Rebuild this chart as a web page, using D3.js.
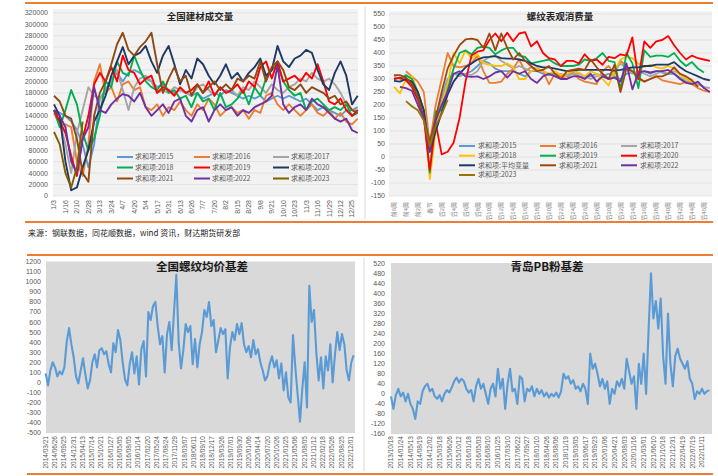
<!DOCTYPE html>
<html><head><meta charset="utf-8">
<script src="https://cdn.jsdelivr.net/npm/d3@7"></script>
<style>body{margin:0;background:#fff}text{font-family:"Liberation Sans","Noto Sans CJK SC",sans-serif}</style>
</head><body>
<svg id="c" width="718" height="476"></svg>
<script>
// ---------- Top-left: 全国建材成交量 ----------
const tlTicks = ["1/3","1/16","2/10","2/28","3/13","3/24","4/7","4/20","5/4","5/17","5/31","6/13","6/26","7/7","7/20","8/2","8/15","8/28","9/8","9/21","10/10","10/23","11/3","11/16","11/29","12/12","12/25"];
const tlYTicks = [0,20000,40000,60000,80000,100000,120000,140000,160000,180000,200000,220000,240000,260000,280000,300000,320000];
const tl2015 = [150000,145000,140000,130000,115000,90000,50000,90000,170000,185000,205000,215000,200000,215000,220000,215000,205000,200000,190000,195000,185000,180000,185000,180000,175000,180000,170000,175000,180000,175000,185000,180000,175000,170000,175000,170000,175000,165000,170000,175000,170000,175000,170000,165000,170000,160000,150000,155000,150000,145000,140000,150000,150000,155000];
const tl2016 = [145000,125000,125000,120000,60000,35000,90000,200000,230000,180000,190000,165000,195000,200000,185000,190000,155000,150000,160000,140000,155000,150000,165000,150000,140000,160000,150000,170000,160000,140000,150000,155000,145000,150000,135000,150000,145000,175000,180000,160000,150000,160000,150000,140000,150000,160000,145000,140000,150000,135000,145000,130000,125000,135000];
const tl2017 = [150000,130000,90000,40000,110000,150000,190000,175000,170000,180000,200000,220000,185000,150000,190000,205000,210000,200000,180000,185000,180000,190000,185000,180000,175000,190000,195000,185000,175000,190000,180000,185000,175000,190000,185000,200000,190000,180000,195000,185000,180000,190000,195000,205000,200000,215000,205000,200000,205000,195000,180000,160000,150000,150000];
const tl2018 = [150000,120000,150000,185000,160000,110000,80000,100000,140000,200000,190000,235000,215000,210000,245000,220000,200000,190000,185000,200000,180000,185000,170000,175000,155000,180000,165000,170000,150000,180000,155000,160000,170000,185000,160000,190000,175000,205000,220000,230000,200000,185000,175000,180000,150000,165000,170000,160000,150000,155000,150000,160000,140000,145000];
const tl2019 = [150000,130000,110000,70000,35000,100000,140000,195000,215000,200000,225000,200000,245000,220000,215000,195000,205000,210000,180000,190000,185000,175000,190000,180000,185000,195000,180000,200000,175000,190000,180000,185000,195000,180000,200000,190000,225000,235000,205000,235000,200000,205000,210000,200000,215000,205000,230000,200000,165000,160000,170000,150000,140000,150000];
const tl2020 = [160000,140000,60000,10000,15000,50000,80000,130000,150000,175000,210000,235000,260000,230000,245000,250000,262000,235000,215000,245000,262000,230000,195000,220000,205000,240000,230000,210000,195000,210000,230000,205000,215000,200000,215000,225000,240000,210000,220000,262000,235000,225000,240000,245000,255000,250000,220000,195000,185000,215000,235000,210000,160000,175000];
const tl2021 = [175000,165000,140000,135000,100000,40000,25000,140000,180000,200000,230000,265000,285000,255000,245000,260000,270000,285000,230000,180000,205000,225000,200000,210000,175000,195000,180000,190000,200000,185000,195000,185000,205000,200000,210000,205000,235000,200000,225000,235000,220000,190000,185000,195000,180000,190000,185000,180000,170000,175000,160000,165000,150000,145000];
const tl2022 = [150000,140000,120000,60000,40000,100000,120000,190000,150000,145000,160000,170000,178000,175000,165000,180000,155000,140000,150000,160000,145000,165000,170000,140000,130000,150000,155000,130000,150000,160000,150000,155000,140000,150000,145000,155000,160000,165000,175000,228000,160000,145000,155000,160000,150000,170000,160000,155000,145000,135000,130000,135000,115000,110000];
const tl2023 = [112000,90000,40000,15000,50000,130000];
const tlNames = ["2015","2016","2017","2018","2019","2020","2021","2022","2023"];
const tlColors = ["#5b9bd5","#ed7d31","#a5a5a5","#00b050","#ff0000","#1f3864","#8e4a14","#7030a0","#7f6000"];
const tlSeries = [tl2015,tl2016,tl2017,tl2018,tl2019,tl2020,tl2021,tl2022,tl2023];

// ---------- Top-right: 螺纹表观消费量 ----------
const trTicks = ["前6周","前4周","前2周","春节","后2周","后4周","后6周","后8周","后10周","后12周","后14周","后16周","后18周","后20周","后22周","后24周","后26周","后28周","后30周","后32周","后34周","后36周","后38周","后40周","后42周","后44周","后46周"];
const trYTicks = [-150,-100,-50,0,50,100,150,200,250,300,350,400,450,500,550];
const tr2015 = [300,305,300,290,245,160,30,150,230,300,320,320,320,330,350,370,360,340,330,330,330,320,310,330,330,320,315,320,310,320,320,310,305,310,320,310,320,310,300,320,325,320,330,320,330,325,320,320,305,290,285,280,270,null];
const tr2016 = [null,null,330,310,290,250,50,200,300,400,350,345,350,360,390,330,285,285,290,320,340,375,330,345,340,330,280,320,310,300,330,300,290,285,280,330,350,320,370,350,330,300,290,300,310,295,290,285,280,290,280,265,255,250];
const tr2017 = [310,300,300,280,240,170,60,130,220,290,320,310,320,315,330,370,385,390,370,355,340,350,340,330,340,330,320,320,320,310,320,320,310,300,310,320,300,330,360,340,320,330,320,310,320,330,320,330,320,300,290,280,270,265];
const tr2018 = [270,245,300,310,250,180,-85,100,200,280,400,360,410,380,395,360,355,350,350,360,345,300,300,330,340,330,320,330,315,320,330,325,310,330,320,300,275,330,375,385,380,360,345,355,345,340,350,340,315,300,290,270,null,null];
const tr2019 = [null,300,315,300,250,180,-60,175,180,260,340,400,410,395,420,425,420,395,410,420,420,390,385,360,365,370,375,360,350,350,350,355,375,370,380,400,370,365,260,400,360,265,410,385,390,390,385,400,370,350,365,340,325,null];
const tr2020 = [300,305,295,270,220,150,-50,130,10,20,55,150,290,390,405,410,450,475,445,478,445,475,480,425,445,400,380,375,350,370,370,360,395,370,375,355,385,380,395,390,460,300,445,420,445,450,465,430,400,375,390,380,375,370];
const trAvg = [293,290,300,290,250,180,20,100,170,240,290,320,345,360,375,383,385,388,380,378,378,375,370,360,350,345,345,340,335,330,333,335,335,335,335,335,335,332,335,340,345,345,350,350,355,355,355,365,345,330,320,310,300,295];
const tr2021 = [315,315,305,280,230,150,60,150,250,340,390,430,452,455,450,420,475,410,475,420,375,400,370,350,330,335,350,320,300,330,335,340,335,375,345,320,300,355,250,340,330,305,290,300,310,310,320,345,320,310,295,270,null,null];
const tr2022 = [null,270,265,255,200,150,20,140,200,250,320,330,310,308,310,300,310,325,330,305,330,320,330,300,285,310,320,310,300,300,310,310,300,320,290,310,300,305,290,360,260,325,330,325,330,330,335,320,300,285,280,290,265,250];
const tr2023 = [null,null,215,195,180,140,40,120,165,220];
const trNames = ["求和项:2015","求和项:2016","求和项:2017","求和项:2018","求和项:2019","求和项:2020","求和项:平均变量","求和项:2021","求和项:2022","求和项:2023"];
const trColors = ["#5b9bd5","#ed7d31","#a5a5a5","#ffc000","#00b050","#ff0000","#1f3864","#9e480e","#7030a0","#997300"];
const trSeries = [tr2015,tr2016,tr2017,tr2018,tr2019,tr2020,trAvg,tr2021,tr2022,tr2023];

// ---------- Bottom-left: 全国螺纹均价基差 ----------
const blTicks = ["2014/03/21","2014/06/26","2014/09/25","2014/12/31","2015/04/13","2015/07/14","2015/10/21","2016/01/27","2016/05/05","2016/08/05","2016/11/14","2017/02/20","2017/05/24","2017/08/24","2017/11/29","2018/03/07","2018/06/11","2018/09/10","2018/12/17","2019/03/26","2019/07/01","2019/09/30","2020/01/06","2020/04/14","2020/07/20","2020/10/26","2021/01/25","2021/05/06","2021/08/05","2021/11/12","2022/02/18","2022/05/26","2022/08/25","2022/12/01"];
const blYTicks = [-500,-400,-300,-200,-100,0,100,200,300,400,500,600,700,800,900,1000,1100,1200];
const blBasis = [90,-30,120,200,150,60,110,80,150,400,540,380,250,60,-10,120,240,80,-60,20,200,280,150,320,340,280,310,180,100,390,300,520,420,200,30,-30,180,300,90,260,-20,330,410,60,700,620,760,800,560,380,460,100,480,600,320,700,1070,400,140,320,580,500,560,180,430,150,380,500,720,650,800,560,620,300,420,540,480,530,40,350,500,420,580,480,590,380,300,360,250,420,280,330,200,120,20,60,180,260,150,220,40,190,-80,100,-150,-200,470,150,-120,-390,-60,200,-250,960,600,720,300,20,250,-60,260,120,380,0,280,500,320,480,380,120,20,200,270];

// ---------- Bottom-right: 青岛PB粉基差 ----------
const brTicks = ["2013/10/18","2014/01/24","2014/05/13","2014/08/19","2014/12/02","2015/03/18","2015/06/26","2015/10/12","2016/01/18","2016/05/03","2016/08/10","2016/11/25","2017/03/10","2017/06/22","2017/09/27","2018/01/10","2018/04/26","2018/08/06","2018/11/19","2019/03/05","2019/06/17","2019/09/23","2020/01/06","2020/04/21","2020/08/03","2020/11/16","2021/03/01","2021/06/10","2021/10/18","2021/12/31","2022/04/19","2022/07/19","2022/11/11"];
const brYTicks = [-160,-120,-80,-40,0,40,80,120,160,200,240,280,320,360,400,440,480,520];
const brBasis = [-10,-60,-5,20,-10,5,-30,0,-40,-60,-100,-30,-40,10,30,40,10,20,-10,-20,-5,-30,0,15,5,25,50,65,45,60,50,20,5,15,-30,30,60,20,40,0,-40,20,40,-10,100,20,60,-60,40,100,10,20,-40,70,60,-30,20,10,30,-10,20,0,15,-10,5,-15,0,-10,5,-15,10,80,60,70,40,55,20,30,10,40,20,-40,160,100,120,80,30,60,20,50,-40,20,0,50,30,60,20,140,90,40,70,-60,120,40,160,0,250,480,300,370,260,380,150,40,320,120,30,150,180,140,120,100,130,60,40,-20,10,0,20,0,10,15];

const svg = d3.select("#c");
const ORANGE = "#ed7d31", AXIS = "#595959";

function hrule(x1, x2, y) {
  svg.append("line").attr("x1", x1).attr("x2", x2).attr("y1", y).attr("y2", y)
    .attr("stroke", ORANGE).attr("stroke-width", 2.2);
}
function vrule(x, y1, y2) {
  svg.append("line").attr("x1", x).attr("x2", x).attr("y1", y1).attr("y2", y2)
    .attr("stroke", "#d9d9d9").attr("stroke-width", 1);
}
hrule(25, 360, 3); hrule(360, 713, 3);
hrule(25, 360, 222); hrule(360, 713, 222);
hrule(27, 360, 255); hrule(360, 713, 255);
hrule(27, 360, 474); hrule(360, 713, 474);
vrule(365, 6, 219); vrule(364, 258, 471);

function yAxis(g, y, ticks, xr, grid, x0, x1, fs) {
  ticks.forEach(t => {
    if (grid) g.append("line").attr("x1", x0).attr("x2", x1).attr("y1", y(t)).attr("y2", y(t))
      .attr("stroke", "#dcdcdc").attr("stroke-width", 0.7);
    g.append("text").attr("x", xr).attr("y", y(t)).attr("dy", "0.35em").attr("text-anchor", "end")
      .attr("font-size", fs).attr("fill", AXIS).text(t);
  });
}
function xLabels(g, xs, ticks, posFn, ytop, fs, color) {
  ticks.forEach((t, i) => {
    const x = xs(posFn(i));
    g.append("text").attr("transform", `translate(${x + fs * 0.35},${ytop}) rotate(-90)`)
      .attr("text-anchor", "end").attr("font-size", fs).attr("fill", color).text(t);
  });
}

// ===== Top-left panel =====
{
  const g = svg.append("g");
  const x = d3.scaleLinear().domain([0, 26]).range([54, 352]);
  const y = d3.scaleLinear().domain([0, 320000]).range([196, 12.7]);
  g.append("rect").attr("x", 53).attr("y", 9).attr("width", 305).attr("height", 187).attr("fill", "#f2f2f2");
  yAxis(g, y, tlYTicks, 48, true, 53, 358, 7);
  xLabels(g, x, tlTicks, i => i, 200, 7, AXIS);
  const line = d3.line().defined(d => d != null).x((d, i) => x(i * 0.5)).y(d => y(d));
  tlSeries.forEach((s, k) => {
    g.append("path").attr("d", line(s)).attr("fill", "none").attr("stroke", tlColors[k])
      .attr("stroke-width", 1.9).attr("stroke-linejoin", "round");
  });
  g.append("text").attr("x", 200).attr("y", 19.5).attr("text-anchor", "middle").attr("font-size", 9.5)
    .attr("font-weight", "bold").attr("fill", "#262626")
    .style("font-family", "'Noto Sans CJK SC',sans-serif").text("全国建材成交量");
  const cols = [117, 194, 273], rows = [157, 167.5, 178.5];
  tlNames.forEach((n, k) => {
    const cx = cols[k % 3], cy = rows[Math.floor(k / 3)];
    g.append("line").attr("x1", cx).attr("x2", cx + 16).attr("y1", cy).attr("y2", cy)
      .attr("stroke", tlColors[k]).attr("stroke-width", 2);
    g.append("text").attr("x", cx + 18).attr("y", cy).attr("dy", "0.35em").attr("font-size", 7)
      .attr("fill", AXIS).style("font-family", "'Noto Sans CJK SC',sans-serif").text("求和项:" + n);
  });
}

// ===== Top-right panel =====
{
  const g = svg.append("g");
  const x = d3.scaleLinear().domain([-6, 47]).range([394, 394 + 53 * 5.96]);
  const y = d3.scaleLinear().domain([-150, 550]).range([196, 14]);
  g.append("rect").attr("x", 389).attr("y", 11).attr("width", 323).attr("height", 185).attr("fill", "#f2f2f2");
  yAxis(g, y, trYTicks, 385, true, 389, 712, 7);
  xLabels(g, x, trTicks, i => -6 + 2 * i, 202, 6, "#7f7f7f");
  const line = d3.line().defined(d => d != null).x((d, i) => x(-6 + i)).y(d => y(d));
  trSeries.forEach((s, k) => {
    g.append("path").attr("d", line(s)).attr("fill", "none").attr("stroke", trColors[k])
      .attr("stroke-width", 1.8).attr("stroke-linejoin", "round");
  });
  g.append("text").attr("x", 560).attr("y", 19.5).attr("text-anchor", "middle").attr("font-size", 9.5)
    .attr("font-weight", "bold").attr("fill", "#262626")
    .style("font-family", "'Noto Sans CJK SC',sans-serif").text("螺纹表观消费量");
  const cols = [459, 540, 621], rows = [146, 155.7, 165.3, 175];
  trNames.forEach((n, k) => {
    const cx = cols[k % 3], cy = rows[Math.floor(k / 3)];
    g.append("line").attr("x1", cx).attr("x2", cx + 16).attr("y1", cy).attr("y2", cy)
      .attr("stroke", trColors[k]).attr("stroke-width", 2);
    g.append("text").attr("x", cx + 19).attr("y", cy).attr("dy", "0.35em").attr("font-size", 7)
      .attr("fill", AXIS).style("font-family", "'Noto Sans CJK SC',sans-serif").text(n);
  });
}

// source note
svg.append("text").attr("x", 28).attr("y", 236).attr("font-size", 8).attr("fill", "#1a1a1a")
  .style("font-family", "'Noto Sans CJK SC',sans-serif")
  .text("来源：钢联数据，同花顺数据，wind 资讯，财达期货研发部");

// ===== Bottom-left panel =====
{
  const g = svg.append("g");
  const x = d3.scaleLinear().domain([0, 33]).range([45.7, 350.6]);
  const y = d3.scaleLinear().domain([-500, 1200]).range([432.7, 261.7]);
  g.append("rect").attr("x", 46).attr("y", 261.5).attr("width", 309).attr("height", 171.5).attr("fill", "#d9d9d9");
  yAxis(g, y, blYTicks, 41, false, 0, 0, 7);
  xLabels(g, x, blTicks, i => i, 436, 6.5, AXIS);
  const line = d3.line().x((d, i) => x(i * 0.2525)).y(d => y(d));
  g.append("path").attr("d", line(blBasis)).attr("fill", "none").attr("stroke", "#5b9bd5")
    .attr("stroke-width", 2.1).attr("stroke-linejoin", "round");
  g.append("text").attr("x", 202).attr("y", 271).attr("text-anchor", "middle").attr("font-size", 11.5)
    .attr("font-weight", "bold").attr("fill", "#1a1a1a")
    .style("font-family", "'Noto Sans CJK SC',serif").text("全国螺纹均价基差");
}

// ===== Bottom-right panel =====
{
  const g = svg.append("g");
  const x = d3.scaleLinear().domain([0, 32]).range([391, 702]);
  const y = d3.scaleLinear().domain([-160, 520]).range([434, 263.3]);
  g.append("rect").attr("x", 391).attr("y", 263).attr("width", 321).attr("height", 171).attr("fill", "#d9d9d9");
  yAxis(g, y, brYTicks, 385, false, 0, 0, 7);
  xLabels(g, x, brTicks, i => i, 436, 6.5, AXIS);
  const line = d3.line().x((d, i) => x(i * 0.25)).y(d => y(d));
  g.append("path").attr("d", line(brBasis)).attr("fill", "none").attr("stroke", "#5b9bd5")
    .attr("stroke-width", 2.1).attr("stroke-linejoin", "round");
  g.append("text").attr("x", 547).attr("y", 271).attr("text-anchor", "middle").attr("font-size", 11.5)
    .attr("font-weight", "bold").attr("fill", "#1a1a1a")
    .style("font-family", "'Noto Sans CJK SC',serif").text("青岛PB粉基差");
}
</script>
</body></html>
